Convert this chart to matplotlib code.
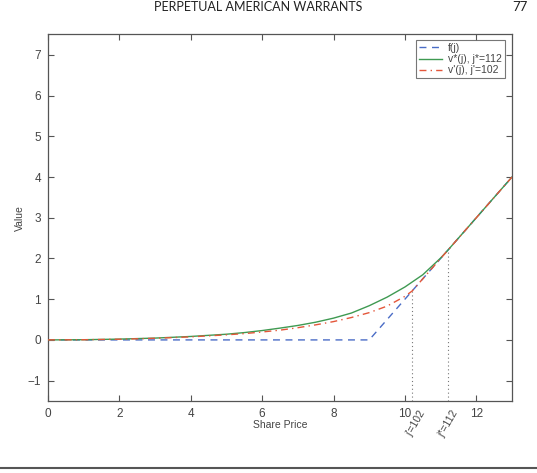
import matplotlib
matplotlib.use("Agg")
import matplotlib.pyplot as plt
from matplotlib.lines import Line2D

# ---- data ----
f_j = [0, 9, 13]
f_v = [0, 0, 4]

v_star_j = [0, 1, 2, 3, 4, 5, 5.5, 6, 6.5, 7, 7.5, 8, 8.5, 9, 9.5, 10, 10.5, 11, 11.2, 12, 13]
v_star_v = [0, 0.005, 0.02, 0.045, 0.085, 0.14, 0.18, 0.23, 0.29, 0.355, 0.435, 0.535, 0.66,
            0.84, 1.05, 1.30, 1.60, 2.01, 2.2, 3.0, 4.0]

v_prime_j = [0, 1, 2, 3, 4, 5, 5.5, 6, 6.5, 7, 7.5, 8, 8.5, 9, 9.5, 10, 10.2, 10.5, 11, 12, 13]
v_prime_v = [0, 0.004, 0.017, 0.04, 0.075, 0.125, 0.155, 0.195, 0.24, 0.30, 0.37, 0.45, 0.55,
             0.67, 0.83, 1.07, 1.2, 1.5, 2.0, 3.0, 4.0]

j_prime, j_prime_val = 10.2, 1.2
j_star, j_star_val = 11.2, 2.2

legend_labels = ["f(j)", "v*(j), j*=112", "v'(j), j'=102"]
marker_labels = ["j'=102", "j*=112"]
x_ticks = [0, 2, 4, 6, 8, 10, 12]
y_ticks = [-1, 0, 1, 2, 3, 4, 5, 6, 7]

# ---- styling ----
blue, green, red = "#4a6cc6", "#3f9a52", "#e4563a"
axcol = "#555555"
plt.rcParams['font.family'] = ['Liberation Sans', 'DejaVu Sans']

fig = plt.figure(figsize=(5.37, 4.73), dpi=100)
ax = fig.add_axes([48/537, 1-401/473, (512-48)/537, (401-34.5)/473])

ax.plot(f_j, f_v, color=blue, lw=1.0, ls=(0, (5, 4)), label=legend_labels[0], zorder=2)
ax.plot(v_star_j, v_star_v, color=green, lw=1.0, ls='-', label=legend_labels[1], zorder=3)
ax.plot(v_prime_j, v_prime_v, color=red, lw=1.0, ls=(0, (5, 3, 1, 3)), label=legend_labels[2], zorder=4)

ax.plot([j_prime, j_prime], [-1.5, j_prime_val], color="#777777", lw=0.8, ls=(0, (1, 2.5)), zorder=1)
ax.plot([j_star, j_star], [-1.5, j_star_val], color="#777777", lw=0.8, ls=(0, (1, 2.5)), zorder=1)

ax.set_xlim(0, 13)
ax.set_ylim(-1.5, 7.5)
ax.set_xticks(x_ticks)
ax.set_yticks(y_ticks)
ax.set_yticklabels(["\u22121" if t == -1 else str(t) for t in y_ticks])
ax.tick_params(direction='in', length=4, width=0.8, colors=axcol, labelsize=8.5,
               top=True, right=True, labelcolor="#444444", pad=5)
for s in ax.spines.values():
    s.set_color(axcol)
    s.set_linewidth(0.9)

ax.set_xlabel("Share Price", fontsize=7.5, color="#444444", labelpad=0)
ax.set_ylabel("Value", fontsize=7.5, color="#444444", labelpad=2)

ax.text(j_prime + 0.1, -2.05, marker_labels[0], rotation=60, ha='center', va='center',
        fontsize=7.5, color="#444444", clip_on=False)
ax.text(j_star, -2.05, marker_labels[1], rotation=60, ha='center', va='center',
        fontsize=7.5, color="#444444", clip_on=False)

leg = ax.legend(loc='upper right', fontsize=7.5, frameon=True, fancybox=False,
                borderpad=0.3, handlelength=2.2, labelspacing=0.1, handletextpad=0.6,
                bbox_to_anchor=(0.985, 0.985), borderaxespad=0)
leg.get_frame().set_edgecolor(axcol)
leg.get_frame().set_linewidth(0.8)
for t in leg.get_texts():
    t.set_color("#444444")

fig.text(258/537, 1-7/473, "PERPETUAL AMERICAN WARRANTS", ha='center', va='center',
         fontsize=9, color="#222222", family=['Lato', 'DejaVu Sans'])
fig.text(520/537, 1-7/473, "77", ha='center', va='center', fontsize=9.5, color="#222222",
         family=['Lato', 'DejaVu Sans'])
fig.add_artist(Line2D([0, 1], [1-467.5/473, 1-467.5/473], transform=fig.transFigure,
                      color="#555555", lw=1.5))

fig.savefig("out.png", dpi=100)
